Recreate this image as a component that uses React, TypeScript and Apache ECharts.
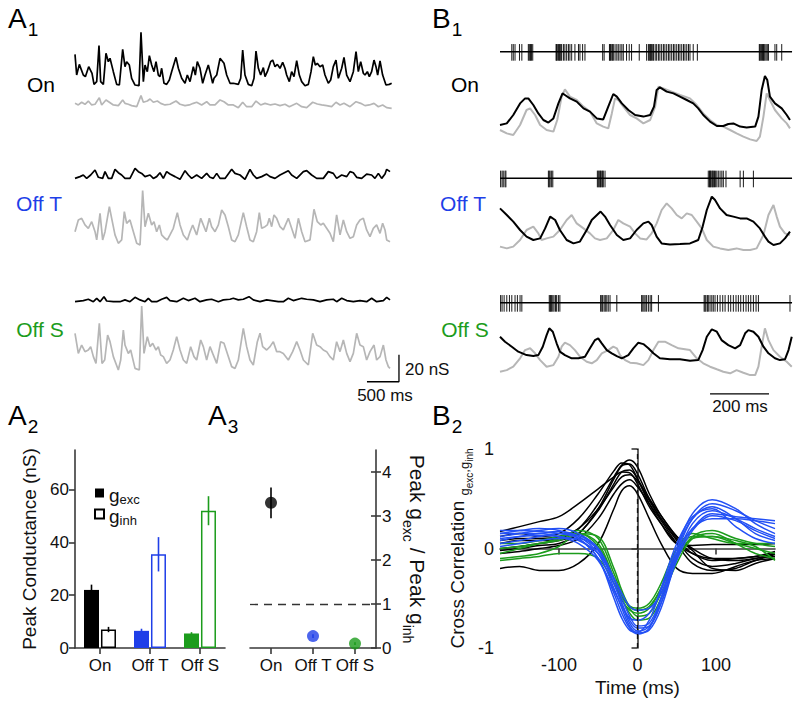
import React, { useEffect, useRef } from 'react';
import * as echarts from 'echarts';

const FONT = '"Liberation Sans", Arial, Helvetica, sans-serif';
const BLUE = '#1f3fe8';
const GREEN = '#1c9c1c';
const GRAY = '#b6b6b6';
const AXIS = '#3a3a3a';
const TXT = '#111111';

// ---------- A1: conductance traces (time ms, conductance nS) ----------
const A1_ON_EXC = [[0,24.9],[26,9.6],[68,17.5],[130,9.6],[162,8.4],[214,15.8],[266,10.9],[297,2.7],[339,4.7],[375,31.4],[401,4.7],[443,2.7],[484,25.7],[521,19.5],[547,22.0],[599,12.1],[651,2.7],[693,2.2],[745,28.6],[781,15.8],[807,19.5],[849,17.0],[885,7.2],[938,2.2],[1000,1.7],[1031,41.2],[1068,4.7],[1094,17.0],[1130,12.1],[1162,24.0],[1198,17.0],[1234,12.1],[1266,19.5],[1302,9.6],[1328,8.4],[1354,14.6],[1391,3.5],[1432,2.7],[1474,5.9],[1510,12.1],[1578,22.7],[1615,14.6],[1667,7.2],[1719,3.5],[1755,9.6],[1797,4.7],[1849,15.8],[1880,9.6],[1911,19.5],[1953,14.6],[1995,3.5],[2031,9.6],[2083,17.0],[2109,12.1],[2151,3.5],[2172,7.2],[2214,9.6],[2266,22.0],[2328,18.3],[2370,9.6],[2422,3.5],[2474,3.5],[2552,2.7],[2589,7.2],[2620,28.1],[2656,9.6],[2708,2.7],[2761,1.7],[2797,7.2],[2828,27.4],[2865,14.6],[2901,9.6],[2943,15.1],[2969,8.4],[3005,12.1],[3057,19.5],[3089,20.7],[3125,15.8],[3162,17.5],[3203,14.6],[3245,19.0],[3281,14.6],[3307,9.6],[3349,4.7],[3385,12.1],[3422,8.4],[3464,20.2],[3505,9.6],[3542,4.7],[3594,1.7],[3646,2.7],[3688,12.1],[3724,23.2],[3755,17.0],[3786,18.3],[3828,15.8],[3870,17.0],[3906,9.6],[3958,3.5],[3995,5.9],[4036,15.8],[4078,20.7],[4115,7.2],[4167,14.6],[4203,22.7],[4245,9.6],[4297,4.7],[4349,12.1],[4391,26.9],[4427,12.1],[4464,19.5],[4505,10.9],[4531,9.6],[4568,12.1],[4599,8.4],[4635,12.1],[4672,20.7],[4703,15.8],[4729,9.6],[4766,20.0],[4807,9.6],[4859,2.2],[4911,2.7],[4948,3.5]];
const A1_ON_INH = [[0,4.2],[52,3.0],[104,5.0],[156,3.5],[208,5.9],[261,3.0],[313,3.5],[380,8.4],[417,3.0],[484,6.7],[537,5.0],[599,3.0],[677,2.5],[745,6.7],[781,4.2],[833,3.5],[885,2.5],[964,1.7],[1031,9.9],[1068,5.0],[1130,5.9],[1172,7.4],[1224,5.0],[1287,5.9],[1339,4.2],[1406,3.0],[1484,3.5],[1578,5.9],[1641,3.5],[1719,2.5],[1786,3.0],[1849,4.2],[1901,5.0],[1979,3.0],[2057,5.4],[2109,3.0],[2188,3.0],[2266,6.7],[2328,5.4],[2396,3.0],[2474,3.0],[2552,1.0],[2620,5.0],[2682,1.7],[2761,1.7],[2828,5.9],[2901,3.0],[2969,4.2],[3057,3.0],[3125,3.7],[3203,2.5],[3281,3.5],[3349,1.7],[3464,4.2],[3542,1.7],[3620,1.0],[3714,5.0],[3786,3.7],[3854,3.0],[3932,2.5],[4010,1.7],[4078,5.0],[4141,3.0],[4203,4.2],[4297,1.7],[4391,5.4],[4464,4.2],[4531,2.5],[4599,3.0],[4672,4.2],[4740,1.7],[4807,3.0],[4870,1.0],[4948,0.5]];
const A1_OFFT_EXC = [[0,3.2],[78,4.5],[130,5.7],[182,3.2],[245,5.7],[313,9.4],[365,4.0],[432,3.2],[469,8.2],[521,3.2],[573,3.2],[625,9.9],[677,7.4],[729,5.7],[781,3.2],[859,3.2],[938,10.6],[990,8.2],[1042,6.9],[1094,4.5],[1172,5.7],[1224,3.2],[1276,4.5],[1328,7.4],[1380,3.2],[1432,8.2],[1484,6.4],[1563,4.5],[1641,2.5],[1719,8.9],[1771,5.7],[1823,3.2],[1901,5.7],[1979,3.2],[2057,6.9],[2109,4.0],[2161,3.2],[2214,6.9],[2266,3.2],[2344,3.2],[2448,9.9],[2500,6.9],[2578,5.7],[2656,2.5],[2734,9.9],[2786,5.7],[2838,3.2],[2917,4.5],[2995,6.4],[3047,4.5],[3125,3.2],[3203,5.7],[3333,8.9],[3385,5.7],[3464,3.2],[3568,8.2],[3620,8.9],[3698,5.7],[3776,3.2],[3880,3.2],[3958,8.2],[4036,6.9],[4088,3.2],[4167,5.7],[4245,4.5],[4297,8.2],[4349,7.4],[4401,4.0],[4479,3.2],[4557,6.4],[4635,5.7],[4687,3.2],[4740,6.9],[4792,3.2],[4844,6.4],[4870,9.9],[4922,8.2]];
const A1_OFFT_INH = [[0,10.6],[52,19.3],[104,20.5],[156,15.6],[208,13.1],[261,18.0],[313,10.6],[339,4.5],[391,24.2],[432,4.5],[469,10.6],[537,29.2],[573,20.5],[625,8.2],[677,2.0],[729,4.5],[771,25.5],[807,16.8],[859,19.3],[912,10.6],[964,2.0],[1016,0.8],[1057,41.0],[1094,14.3],[1146,24.2],[1198,15.6],[1234,18.0],[1276,10.6],[1318,15.6],[1354,8.2],[1406,5.7],[1443,4.5],[1484,8.2],[1536,13.1],[1599,24.7],[1641,15.6],[1693,8.2],[1755,4.5],[1797,10.6],[1839,15.6],[1901,8.2],[1964,20.5],[1995,16.8],[2047,10.6],[2099,20.5],[2135,14.3],[2188,10.6],[2240,15.6],[2292,26.7],[2344,23.0],[2396,14.3],[2448,4.5],[2500,3.2],[2552,8.2],[2630,24.7],[2682,14.3],[2734,4.5],[2786,3.2],[2838,10.6],[2880,24.7],[2917,13.1],[2969,14.3],[3005,15.6],[3036,20.5],[3073,14.3],[3109,23.0],[3151,20.5],[3203,14.3],[3255,11.9],[3333,20.5],[3385,13.1],[3437,5.7],[3490,20.5],[3542,10.6],[3594,3.2],[3672,4.5],[3734,27.2],[3786,18.0],[3839,15.6],[3880,16.8],[3932,13.1],[3984,9.4],[4036,3.2],[4088,23.0],[4141,8.2],[4193,19.3],[4245,10.6],[4297,5.7],[4349,6.9],[4401,15.6],[4453,19.3],[4505,20.5],[4557,11.9],[4609,6.9],[4661,13.1],[4713,15.6],[4766,9.4],[4807,16.8],[4844,11.9],[4870,4.5],[4922,3.2]];
const A1_OFFS_EXC = [[0,1.2],[130,2.0],[208,3.0],[287,1.2],[339,3.7],[391,1.2],[453,4.9],[495,1.7],[599,1.2],[703,1.2],[781,2.5],[859,1.2],[938,4.4],[1016,2.5],[1094,1.2],[1146,3.7],[1198,1.2],[1276,1.2],[1354,3.0],[1432,4.4],[1484,2.0],[1589,1.2],[1693,3.7],[1771,2.0],[1875,3.7],[1953,1.2],[2057,2.5],[2135,3.0],[2240,1.2],[2318,2.5],[2422,3.0],[2474,3.7],[2552,2.5],[2630,3.0],[2719,4.9],[2786,2.5],[2891,1.2],[2995,2.5],[3073,2.0],[3177,1.2],[3255,1.2],[3333,3.7],[3411,2.0],[3542,3.7],[3620,3.0],[3724,2.5],[3828,1.2],[3932,2.5],[4036,3.0],[4088,1.2],[4167,3.7],[4245,2.0],[4349,1.2],[4453,2.0],[4557,1.2],[4635,3.7],[4713,1.2],[4818,2.0],[4870,4.4],[4922,2.5]];
const A1_OFFS_INH = [[0,29.2],[52,14.3],[104,20.5],[156,15.6],[208,16.8],[245,19.3],[287,11.9],[328,6.9],[380,36.6],[422,6.9],[464,9.4],[510,27.9],[547,23.0],[599,11.9],[677,2.0],[714,9.4],[755,31.6],[781,20.5],[833,14.3],[870,16.8],[938,3.2],[1005,2.0],[1042,49.4],[1078,14.3],[1130,26.7],[1172,19.3],[1214,21.8],[1266,16.8],[1302,19.3],[1339,13.1],[1380,11.9],[1432,6.9],[1484,9.4],[1536,16.8],[1589,26.7],[1641,16.8],[1693,9.4],[1745,6.9],[1807,19.3],[1859,11.9],[1901,9.4],[1964,24.2],[2005,19.3],[2057,9.4],[2109,19.3],[2151,14.3],[2214,6.9],[2276,23.0],[2328,21.8],[2380,14.3],[2448,4.5],[2500,3.2],[2552,9.4],[2630,32.9],[2682,19.3],[2734,9.4],[2786,5.7],[2849,23.0],[2891,29.2],[2932,19.3],[2995,16.8],[3047,19.3],[3099,23.0],[3151,15.6],[3203,15.6],[3255,14.3],[3333,9.4],[3401,15.6],[3464,23.0],[3516,16.8],[3568,9.4],[3646,5.7],[3714,29.2],[3776,20.5],[3828,19.3],[3880,16.8],[3932,15.6],[3984,11.9],[4036,9.4],[4088,23.0],[4141,15.6],[4193,24.2],[4245,14.3],[4297,8.2],[4349,14.3],[4401,29.2],[4453,20.5],[4505,19.3],[4557,9.4],[4609,15.6],[4672,20.5],[4713,9.4],[4766,11.9],[4818,20.5],[4859,9.4],[4896,4.5],[4922,3.2]];
const A1_SCALE_MS = 500;
const A1_SCALE_NS = 20;

// ---------- B1: spike times (ms) and conductances ----------
const B1_ON_SPIKES = [40,45,51,66,74,96,99,102,104,107,111,190,192,194,198,201,203,206,209,215,220,226,232,237,243,254,266,271,280,288,348,353,371,373,375,379,382,384,390,396,401,407,413,418,429,438,446,472,497,503,506,509,511,514,518,520,526,531,537,542,548,554,559,565,571,576,582,588,593,599,605,610,616,622,627,633,639,644,655,669,879,881,884,887,890,893,895,898,902,906,910,932,938,955];
const B1_OFFT_SPIKES = [2,7,11,17,20,164,167,170,175,179,330,333,336,339,341,345,348,350,356,706,710,712,714,718,721,723,727,730,735,740,746,752,757,766,814,825,859];
const B1_OFFS_SPIKES = [2,7,14,23,32,40,51,59,68,74,167,170,172,175,179,183,188,192,198,203,341,345,348,353,357,362,367,373,396,480,484,488,492,497,503,509,514,537,692,695,698,703,706,712,718,723,729,737,746,755,763,774,782,791,800,808,816,825,834,842,850,859,868,876,983];
const B1_ON_EXC = [[0,10.0],[23,10.8],[45,15.0],[68,20.8],[85,23.3],[96,23.3],[113,20.0],[130,15.8],[147,12.5],[164,11.2],[181,13.3],[198,20.8],[212,25.8],[220,25.0],[237,23.3],[260,21.7],[283,18.3],[305,16.7],[328,13.3],[350,12.8],[367,19.2],[384,25.5],[396,24.2],[413,20.8],[435,17.5],[458,15.0],[486,14.2],[509,15.0],[522,19.2],[531,27.5],[542,28.8],[565,26.7],[588,25.8],[610,24.2],[633,22.5],[655,20.8],[672,18.3],[689,15.0],[712,11.7],[735,9.5],[757,9.5],[774,10.5],[791,10.8],[814,9.2],[836,8.8],[865,9.2],[876,14.2],[887,27.5],[898,34.5],[906,32.5],[915,24.2],[932,20.8],[955,18.3],[972,15.0],[983,12.5]];
const B1_ON_INH = [[0,7.5],[23,5.8],[45,5.0],[68,10.0],[90,17.5],[102,18.3],[119,15.0],[136,10.0],[158,7.5],[181,6.7],[194,12.5],[209,24.2],[220,27.8],[237,24.2],[260,22.5],[283,19.2],[305,16.7],[328,10.8],[350,9.2],[367,8.3],[379,15.8],[390,23.3],[401,22.5],[418,19.2],[441,15.0],[463,13.3],[486,10.8],[509,12.5],[526,19.2],[537,29.2],[554,28.3],[582,26.7],[610,25.0],[644,23.3],[667,20.0],[689,15.8],[712,12.5],[735,10.0],[757,9.2],[780,7.5],[802,5.8],[825,4.2],[848,2.8],[870,2.0],[881,4.2],[893,14.2],[904,25.8],[915,22.5],[932,17.5],[955,13.3],[972,10.8],[983,8.3]];
const B1_OFFT_EXC = [[0,21.8],[23,18.5],[45,15.2],[68,11.0],[90,7.7],[113,6.0],[136,6.8],[153,11.8],[170,17.7],[187,16.0],[203,11.0],[226,6.0],[249,4.3],[271,5.2],[294,11.0],[311,16.0],[341,20.2],[356,17.7],[373,13.5],[396,8.5],[418,6.0],[441,6.8],[463,11.0],[486,14.3],[503,15.2],[514,13.5],[531,7.7],[548,4.3],[576,3.8],[610,4.0],[644,4.3],[672,6.0],[687,12.7],[701,21.0],[718,27.7],[729,26.0],[746,21.8],[768,18.5],[791,17.7],[814,16.8],[836,16.8],[859,15.2],[881,11.8],[898,7.7],[910,5.2],[927,3.5],[949,4.3],[966,6.8],[983,10.2]];
const B1_OFFT_INH = [[0,2.7],[23,1.8],[45,2.7],[68,6.0],[90,11.0],[113,12.7],[130,9.3],[141,6.0],[158,6.8],[181,7.7],[203,11.0],[226,16.0],[243,18.5],[260,14.3],[283,11.8],[305,9.3],[322,6.8],[339,6.0],[362,6.8],[384,11.0],[401,16.0],[418,14.3],[441,12.7],[458,9.3],[475,6.8],[497,6.3],[514,9.3],[531,14.3],[548,21.0],[565,24.3],[582,21.8],[599,18.5],[616,16.8],[633,19.3],[650,18.5],[667,15.2],[684,11.8],[701,6.0],[723,2.7],[746,1.8],[774,1.0],[802,1.8],[825,1.0],[848,1.0],[870,1.8],[893,8.5],[910,18.5],[927,23.5],[938,17.7],[949,12.7],[966,9.3],[983,8.5]];
const B1_OFFS_EXC = [[0,20.0],[17,17.5],[40,15.0],[62,12.5],[90,10.8],[113,10.3],[130,10.8],[145,15.0],[158,20.8],[167,24.2],[179,22.5],[192,16.7],[203,12.5],[220,10.8],[243,9.2],[266,9.2],[288,10.0],[305,14.2],[322,18.3],[333,19.2],[345,16.7],[362,13.3],[379,11.7],[396,10.3],[413,9.2],[435,10.8],[452,14.2],[469,17.0],[486,16.3],[503,14.2],[520,11.7],[542,9.2],[576,8.7],[610,8.7],[644,8.0],[672,8.3],[687,13.3],[701,20.0],[718,23.7],[735,22.5],[751,18.3],[774,15.8],[797,14.2],[814,15.8],[831,21.7],[842,23.3],[859,22.5],[876,20.0],[893,15.0],[910,11.7],[932,9.2],[949,8.3],[966,8.7],[978,13.3],[989,20.0]];
const B1_OFFS_INH = [[0,2.5],[23,3.3],[45,5.0],[68,9.2],[85,13.3],[102,14.2],[119,11.7],[136,8.3],[158,5.0],[181,5.8],[198,10.0],[209,15.0],[220,17.0],[237,15.8],[254,13.3],[271,10.0],[294,7.5],[311,6.7],[328,8.3],[345,11.7],[367,13.3],[384,15.0],[396,14.2],[407,10.8],[424,8.3],[441,7.0],[463,6.7],[486,5.8],[503,8.3],[520,13.3],[537,17.5],[559,17.5],[582,15.8],[605,14.2],[627,13.7],[644,13.3],[667,9.2],[689,6.7],[712,5.0],[735,3.7],[757,2.5],[780,1.7],[802,3.3],[825,2.0],[848,0.8],[865,0.8],[876,5.0],[887,15.0],[898,24.2],[910,18.3],[927,13.3],[949,10.0],[972,7.5],[989,5.0]];
const B1_SCALE_MS = 200;

// ---------- A2 / A3 ----------
const CATEGORIES = ['On', 'Off T', 'Off S'];
const G_EXC = [22, 6.5, 5.5];
const G_EXC_ERR = [2, 0.8, 0.5];
const G_INH = [7, 35.5, 52];
const G_INH_ERR = [1, 6.5, 5.5];
const A2_TICKS = [0, 20, 40, 60];
const RATIO = [3.3, 0.27, 0.1];
const RATIO_ERR = [0.35, 0.04, 0.03];
const A3_TICKS = [0, 1, 2, 3, 4];

// ---------- B2: cross-correlation curves ----------
const XC_LAG = [-175, -150, -125, -100, -75, -50, -30, -20, -10, 0, 15, 30, 50, 70, 95, 125, 150, 175];
const XC_ON = [
  [0.17,0.22,0.27,0.32,0.45,0.60,0.72,0.77,0.76,0.65,0.42,0.25,0.05,-0.05,-0.10,-0.10,-0.08,-0.05],
  [0.05,0.08,0.08,0.10,0.20,0.45,0.72,0.84,0.89,0.82,0.55,0.33,0.12,0.00,-0.10,-0.12,-0.10,-0.05],
  [0.00,0.02,0.05,0.08,0.15,0.40,0.70,0.83,0.85,0.75,0.50,0.30,0.08,-0.10,-0.18,-0.15,-0.10,-0.08],
  [-0.02,0.00,0.03,0.05,0.15,0.38,0.65,0.77,0.79,0.70,0.48,0.30,0.10,-0.05,-0.12,-0.10,-0.08,-0.03],
  [0.08,0.10,0.10,0.12,0.20,0.40,0.62,0.72,0.74,0.68,0.50,0.33,0.12,-0.02,-0.20,-0.22,-0.15,-0.10],
  [-0.05,-0.03,0.00,0.03,0.10,0.30,0.55,0.65,0.69,0.62,0.45,0.28,0.05,-0.15,-0.22,-0.20,-0.12,-0.06],
  [-0.20,-0.18,-0.22,-0.22,-0.15,0.05,0.40,0.58,0.63,0.55,0.30,0.05,-0.20,-0.25,-0.25,-0.18,-0.12,-0.10],
  [0.12,0.15,0.12,0.15,0.30,0.55,0.78,0.86,0.84,0.70,0.45,0.25,0.05,0.03,0.04,0.04,0.04,0.05],
];
const XC_OFFS = [
  [-0.05,0.00,0.05,0.10,0.18,0.10,-0.25,-0.45,-0.60,-0.68,-0.65,-0.45,-0.10,0.12,0.18,0.10,0.05,0.02],
  [-0.10,-0.08,-0.05,0.02,0.15,0.05,-0.30,-0.50,-0.65,-0.72,-0.70,-0.50,-0.15,0.10,0.15,0.05,-0.05,-0.10],
  [-0.12,-0.10,-0.08,-0.05,-0.05,-0.10,-0.35,-0.52,-0.62,-0.65,-0.60,-0.40,-0.05,0.12,0.12,0.05,0.00,-0.05],
  [0.05,0.05,0.08,0.12,0.15,0.02,-0.30,-0.48,-0.58,-0.60,-0.55,-0.35,0.00,0.15,0.10,0.05,0.05,0.05],
  [0.00,0.02,0.05,0.08,0.15,0.12,-0.20,-0.42,-0.58,-0.62,-0.58,-0.40,-0.08,0.10,0.12,0.08,0.02,-0.12],
];
const XC_OFFT = [
  [0.15,0.18,0.20,0.18,0.10,-0.10,-0.45,-0.65,-0.80,-0.86,-0.80,-0.50,0.00,0.35,0.49,0.40,0.25,0.15],
  [0.12,0.15,0.18,0.20,0.15,0.00,-0.35,-0.55,-0.75,-0.83,-0.78,-0.55,-0.05,0.30,0.45,0.38,0.28,0.20],
  [0.08,0.12,0.15,0.17,0.12,-0.05,-0.40,-0.60,-0.78,-0.85,-0.82,-0.60,-0.10,0.25,0.38,0.30,0.20,0.12],
  [0.05,0.08,0.12,0.15,0.13,0.00,-0.30,-0.50,-0.68,-0.78,-0.75,-0.50,-0.05,0.20,0.35,0.32,0.30,0.28],
  [0.15,0.15,0.15,0.12,0.05,-0.12,-0.42,-0.58,-0.70,-0.72,-0.65,-0.42,0.00,0.30,0.42,0.30,0.15,0.08],
  [0.10,0.12,0.13,0.12,0.08,-0.05,-0.30,-0.45,-0.58,-0.62,-0.60,-0.45,-0.08,0.20,0.30,0.30,0.28,0.25],
  [0.18,0.18,0.17,0.15,0.10,-0.10,-0.50,-0.70,-0.82,-0.84,-0.72,-0.40,0.05,0.32,0.40,0.22,0.10,0.05],
  [0.02,0.05,0.08,0.10,0.10,-0.02,-0.35,-0.55,-0.72,-0.80,-0.78,-0.55,-0.12,0.18,0.33,0.28,0.18,0.10],
];

const CAT_COLORS = ['#000000', BLUE, GREEN];

function buildOption() {
  const grid: any[] = [];
  const xAxis: any[] = [];
  const yAxis: any[] = [];
  const series: any[] = [];

  const hiddenGrid = (left: number, top: number, width: number, height: number, xr: number[], yr: number[]) => {
    const i = grid.length;
    grid.push({ left, top, width, height, containLabel: false });
    xAxis.push({ type: 'value', gridIndex: i, min: xr[0], max: xr[1], show: false });
    yAxis.push({ type: 'value', gridIndex: i, min: yr[0], max: yr[1], show: false });
    return i;
  };
  const trace = (idx: number, data: number[][], color: string, width = 1.7) => {
    series.push({
      type: 'line', xAxisIndex: idx, yAxisIndex: idx, data, symbol: 'none', showSymbol: false,
      lineStyle: { color, width }, clip: false, silent: true, z: color === GRAY ? 2 : 3,
    });
  };

  // A1
  const A1_PX_PER_MS = 0.064;
  const A1_T_MAX = 5100;
  const A1_K = 1.35;
  const A1_H = 70;
  const a1Rows: [number[][], number, string][] = [
    [A1_ON_EXC, 88, '#000'], [A1_ON_INH, 109, GRAY],
    [A1_OFFT_EXC, 182.7, '#000'], [A1_OFFT_INH, 246, GRAY],
    [A1_OFFS_EXC, 303.3, '#000'], [A1_OFFS_INH, 372.7, GRAY],
  ];
  let lastA1 = 0;
  a1Rows.forEach(([d, base, c]) => {
    const gi = hiddenGrid(75, base - A1_H, A1_T_MAX * A1_PX_PER_MS, A1_H, [0, A1_T_MAX], [0, A1_H / A1_K]);
    trace(gi, d, c);
    lastA1 = gi;
  });
  const sbT = 4562, sbV = -6.7;
  series.push({
    type: 'line', xAxisIndex: lastA1, yAxisIndex: lastA1, symbol: 'none', clip: false, silent: true,
    lineStyle: { color: '#000', width: 1.3 },
    data: [[sbT, sbV], [sbT + A1_SCALE_MS, sbV], [sbT + A1_SCALE_MS, sbV + A1_SCALE_NS]],
  });

  // B1
  const B1_PX_PER_MS = 0.295;
  const B1_T_MAX = 990;
  const B1_W = B1_T_MAX * B1_PX_PER_MS;
  const B1_H = 80;
  const B1_K = 2;
  const b1Rows: [number[], number, number[][], number[][], number][] = [
    [B1_ON_SPIKES, 51.7, B1_ON_INH, B1_ON_EXC, 145],
    [B1_OFFT_SPIKES, 178.3, B1_OFFT_INH, B1_OFFT_EXC, 252],
    [B1_OFFS_SPIKES, 302.7, B1_OFFS_INH, B1_OFFS_EXC, 376.7],
  ];
  let lastB1 = 0;
  b1Rows.forEach(([spikes, mid, inh, exc, base]) => {
    const si = hiddenGrid(500, mid - 9, B1_W, 18, [0, B1_T_MAX], [-1, 1]);
    series.push({
      type: 'custom', xAxisIndex: si, yAxisIndex: si, silent: true,
      data: spikes.map((t) => [t, 0]), encode: { x: 0, y: 1 },
      renderItem: (params: any, api: any) => {
        const t = api.value(0);
        const a = api.coord([t, 0.85]);
        const b = api.coord([t, -1]);
        const children: any[] = [{ type: 'line', shape: { x1: a[0], y1: a[1], x2: b[0], y2: b[1] }, style: { stroke: '#000', lineWidth: 0.9 } }];
        if (params.dataIndex === 0) {
          const cs = params.coordSys;
          const y0 = api.coord([t, 0])[1];
          children.push({ type: 'line', shape: { x1: cs.x, y1: y0, x2: cs.x + cs.width, y2: y0 }, style: { stroke: '#000', lineWidth: 1.4 } });
        }
        return { type: 'group', children };
      },
    });
    const ci = hiddenGrid(500, base - B1_H, B1_W, B1_H, [0, B1_T_MAX], [0, B1_H / B1_K]);
    trace(ci, inh, GRAY, 2);
    trace(ci, exc, '#000', 2);
    lastB1 = ci;
  });
  series.push({
    type: 'line', xAxisIndex: lastB1, yAxisIndex: lastB1, symbol: 'none', clip: false, silent: true,
    lineStyle: { color: '#000', width: 1.3 },
    data: [[712, -8.6], [712 + B1_SCALE_MS, -8.6]],
  });

  const axisLine = { show: true, lineStyle: { color: AXIS, width: 1.6 } };
  const tickStyle = { color: AXIS, width: 1.6 };
  const lbl = (fs: number, margin: number) => ({ fontSize: fs, color: TXT, fontFamily: FONT, margin });

  // A2 bar chart
  const a2 = grid.length;
  grid.push({ left: 75, top: 450, width: 150, height: 198 });
  xAxis.push({
    type: 'category', gridIndex: a2, data: CATEGORIES, axisLine,
    axisTick: { show: true, alignWithLabel: true, length: 6, lineStyle: tickStyle },
    axisLabel: { ...lbl(17, 9), interval: 0 }, splitLine: { show: false },
  });
  yAxis.push({
    type: 'value', gridIndex: a2, min: 0, max: 75, axisLine,
    axisTick: { show: true, length: 6, lineStyle: tickStyle, customValues: A2_TICKS },
    axisLabel: { ...lbl(17, 6), customValues: A2_TICKS },
    splitLine: { show: false },
    name: 'Peak Conductance (nS)', nameLocation: 'middle', nameGap: 36,
    nameTextStyle: { fontSize: 19, color: TXT, fontFamily: FONT },
  });
  series.push({
    name: 'gexc', type: 'bar', xAxisIndex: a2, yAxisIndex: a2, barWidth: 15, barGap: '13%',
    itemStyle: { color: '#000' },
    data: G_EXC.map((v, i) => ({ value: v, itemStyle: { color: CAT_COLORS[i] } })),
  });
  series.push({
    name: 'ginh', type: 'bar', xAxisIndex: a2, yAxisIndex: a2, barWidth: 15, barGap: '13%',
    itemStyle: { color: '#fff', borderColor: '#000', borderWidth: 1.5 },
    data: G_INH.map((v, i) => ({ value: v, itemStyle: { color: '#fff', borderColor: CAT_COLORS[i], borderWidth: 1.5 } })),
  });
  const errSeries = (gi: number, vals: number[], errs: number[], offset: number) => ({
    type: 'custom', xAxisIndex: gi, yAxisIndex: gi, silent: true, z: 5,
    data: vals.map((v, i) => [i, v - errs[i], v + errs[i]]), encode: { x: 0, y: [1, 2] },
    renderItem: (params: any, api: any) => {
      const i = api.value(0);
      const p1 = api.coord([i, api.value(1)]);
      const p2 = api.coord([i, api.value(2)]);
      const x = p1[0] + offset;
      return { type: 'line', shape: { x1: x, y1: p1[1], x2: x, y2: p2[1] }, style: { stroke: CAT_COLORS[i], lineWidth: 1.6 } };
    },
  });
  series.push(errSeries(a2, G_EXC, G_EXC_ERR, -8.5));
  series.push(errSeries(a2, G_INH, G_INH_ERR, 8.5));

  // A3 ratio
  const a3 = grid.length;
  grid.push({ left: 250, top: 450, width: 126, height: 198 });
  xAxis.push({
    type: 'category', gridIndex: a3, data: CATEGORIES, axisLine,
    axisTick: { show: true, alignWithLabel: true, length: 6, lineStyle: tickStyle },
    axisLabel: { ...lbl(17, 9), interval: 0 }, splitLine: { show: false },
  });
  yAxis.push({
    type: 'value', gridIndex: a3, position: 'right', min: 0, max: 4.5, axisLine,
    axisTick: { show: true, length: 5, lineStyle: tickStyle, customValues: A3_TICKS },
    axisLabel: { ...lbl(17, 6), customValues: A3_TICKS },
    splitLine: { show: false },
    name: '{m|Peak g}{s|exc}{m| / Peak g}{s|inh}', nameLocation: 'middle', nameGap: 30, nameRotate: -90,
    nameTextStyle: {
      fontSize: 21, color: TXT, fontFamily: FONT,
      rich: {
        m: { fontSize: 21, lineHeight: 22, color: TXT, fontFamily: FONT, verticalAlign: 'top' },
        s: { fontSize: 14, lineHeight: 15, color: TXT, fontFamily: FONT, verticalAlign: 'top', padding: [13, 0, 0, 0] },
      },
    },
  });
  yAxis.push({
    type: 'value', gridIndex: a3, position: 'right', min: 0, max: 4.5,
    axisLine: { show: false }, axisLabel: { show: false }, splitLine: { show: false },
    axisTick: { show: true, inside: true, length: 5, lineStyle: tickStyle, customValues: A3_TICKS },
  });
  series.push({
    type: 'scatter', xAxisIndex: a3, yAxisIndex: a3, symbolSize: 12, z: 4,
    data: RATIO.map((v, i) => ({ value: [i, v], itemStyle: { color: CAT_COLORS[i] } })),
    markLine: {
      silent: true, symbol: 'none', label: { show: false },
      lineStyle: { type: [8, 6], color: '#333', width: 1.3 },
      data: [{ yAxis: 1 }],
    },
  });
  series.push(errSeries(a3, RATIO, RATIO_ERR, 0));

  // B2 cross correlation
  const b2 = grid.length;
  grid.push({ left: 500, top: 449, width: 275, height: 199 });
  xAxis.push({
    type: 'value', gridIndex: b2, min: -175, max: 175, axisLine,
    axisTick: { show: true, length: 6, lineStyle: tickStyle, customValues: [-100, 0, 100] },
    axisLabel: { ...lbl(18, 8), customValues: [-100, 0, 100] },
    splitLine: { show: false },
    name: 'Time (ms)', nameLocation: 'middle', nameGap: 30,
    nameTextStyle: { fontSize: 19, color: TXT, fontFamily: FONT },
  });
  yAxis.push({
    type: 'value', gridIndex: b2, min: -1, max: 1, interval: 1, axisLine,
    axisTick: { show: true, length: 6, lineStyle: tickStyle },
    axisLabel: lbl(18, 6), splitLine: { show: false },
    name: '{m|Cross Correlation }{s|g}{ss|exc}{s|,g}{ss|inh}', nameLocation: 'middle', nameGap: 20,
    nameTextStyle: {
      fontSize: 19, color: TXT, fontFamily: FONT,
      rich: {
        m: { fontSize: 19, lineHeight: 20, color: TXT, fontFamily: FONT, verticalAlign: 'top' },
        s: { fontSize: 13, lineHeight: 14, color: TXT, fontFamily: FONT, verticalAlign: 'top', padding: [10, 0, 0, 0] },
        ss: { fontSize: 10, lineHeight: 11, color: TXT, fontFamily: FONT, verticalAlign: 'top', padding: [16, 0, 0, 0] },
      },
    },
  });
  const b2y = yAxis.length - 1;
  const xcLine = (vals: number[], color: string, extra: any = {}) => ({
    type: 'line', xAxisIndex: b2, yAxisIndex: b2y, symbol: 'none', smooth: 0.35, silent: true,
    lineStyle: { color, width: 1.5 }, data: XC_LAG.map((t, i) => [t, vals[i]]), ...extra,
  });
  XC_ON.forEach((v, k) => series.push(xcLine(v, '#000', k === 0 ? {
    markLine: {
      silent: true, symbol: 'none', label: { show: false }, z: 10,
      lineStyle: { type: [5, 4], color: '#111', width: 1.3 }, data: [{ xAxis: 0 }],
    },
  } : {})));
  XC_OFFS.forEach((v) => series.push(xcLine(v, GREEN)));
  XC_OFFT.forEach((v) => series.push(xcLine(v, '#2350f5')));

  const panel = (letter: string, sub: string, x: number, y: number) => ({
    type: 'text', x, y, silent: true,
    style: {
      text: `{a|${letter}}{s|${sub}}`, verticalAlign: 'top', align: 'left',
      rich: {
        a: { fontSize: 28, lineHeight: 30, fontFamily: FONT, fill: '#000', verticalAlign: 'top' },
        s: { fontSize: 19, lineHeight: 20, fontFamily: FONT, fill: '#000', verticalAlign: 'top', padding: [16, 0, 0, 1] },
      },
    },
  });
  const label = (text: string, x: number, y: number, color: string, fs = 21) => ({
    type: 'text', x, y, silent: true,
    style: { text, fontSize: fs, fontFamily: FONT, fill: color, align: 'center', verticalAlign: 'middle' },
  });

  return {
    animation: false,
    backgroundColor: '#ffffff',
    grid, xAxis, yAxis, series,
    legend: {
      data: ['gexc', 'ginh'], left: 89, top: 481, orient: 'vertical', selectedMode: false,
      itemWidth: 9, itemHeight: 9, itemGap: 1, icon: 'rect',
      formatter: (n: string) => (n === 'gexc' ? '{g|g}{s|exc}' : '{g|g}{s|inh}'),
      textStyle: {
        rich: {
          g: { fontSize: 19, lineHeight: 14, fontFamily: FONT, color: TXT, verticalAlign: 'top' },
          s: { fontSize: 13, lineHeight: 10, fontFamily: FONT, color: TXT, verticalAlign: 'top', padding: [7, 0, 0, 0] },
        },
      },
    },
    graphic: [
      panel('A', '1', 8, 4),
      panel('A', '2', 8, 401),
      panel('A', '3', 208, 401),
      panel('B', '1', 432, 4),
      panel('B', '2', 432, 401),
      label('On', 41, 84, '#000'),
      label('Off T', 39, 203, BLUE),
      label('Off S', 40, 329, GREEN),
      label('On', 465, 84, '#000'),
      label('Off T', 463, 203, BLUE),
      label('Off S', 465, 329, GREEN),
      { type: 'text', x: 405, y: 369, silent: true, style: { text: '20 nS', fontSize: 17, fontFamily: FONT, fill: TXT, align: 'left', verticalAlign: 'middle' } },
      label('500 ms', 385, 395, TXT, 17),
      label('200 ms', 740, 406, TXT, 17),
    ],
  };
}

export default function App() {
  const ref = useRef<HTMLDivElement>(null);
  useEffect(() => {
    const chart = echarts.init(ref.current!, null, { renderer: 'svg' });
    chart.setOption(buildOption() as any);
    return () => chart.dispose();
  }, []);
  return <div ref={ref} style={{ position: 'fixed', left: 0, top: 0, width: 797, height: 706, background: '#fff' }} />;
}
